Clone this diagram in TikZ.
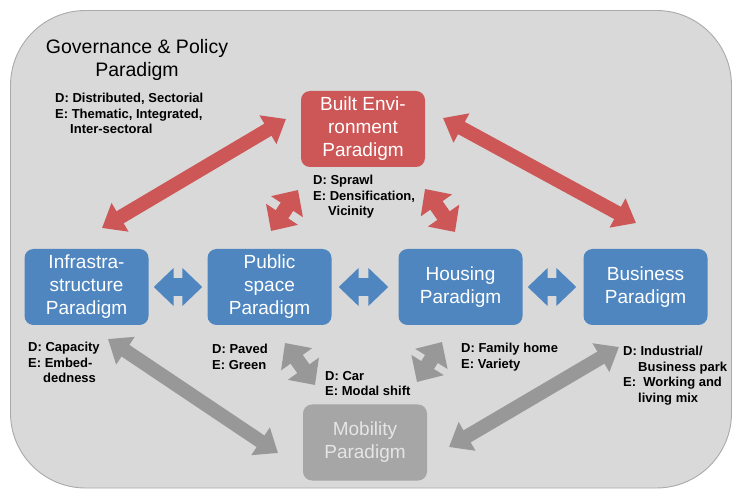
\documentclass[tikz,border=0pt]{standalone}
\usepackage{fontspec}
\setmainfont{Liberation Sans}
\usepackage{xcolor}
\usetikzlibrary{positioning,arrows.meta}
\definecolor{frame}{RGB}{217,217,217}
\definecolor{frameline}{RGB}{170,170,170}
\definecolor{envred}{RGB}{205,86,86}
\definecolor{parblue}{RGB}{79,134,192}
\definecolor{mobgray}{RGB}{166,166,166}
\definecolor{linkgray}{RGB}{152,152,152}
\newcommand{\labind}{\hspace*{15pt}}

\begin{document}
\begin{tikzpicture}[x=1pt, y=-1pt,
    paradigm/.style={rounded corners=9pt, minimum width=124pt, minimum height=76pt,
        inner sep=0pt, align=center, text=white, font=\fontsize{19}{23}\selectfont},
    dlabel/.style={anchor=north west, inner sep=0pt, align=left,
        font=\bfseries\fontsize{13}{15.5}\selectfont},
    redlink/.style={envred, line width=14pt, {Triangle[width=32pt,length=21pt]}-{Triangle[width=32pt,length=21pt]}},
    redstub/.style={envred, line width=15pt, {Triangle[width=37pt,length=20pt]}-{Triangle[width=37pt,length=20pt]}},
    graylink/.style={linkgray, line width=14pt, {Triangle[width=32pt,length=21pt]}-{Triangle[width=32pt,length=21pt]}},
    graystub/.style={linkgray, line width=15pt, {Triangle[width=37pt,length=20pt]}-{Triangle[width=37pt,length=20pt]}},
    bluelink/.style={parblue, line width=18pt, shorten <=5pt, shorten >=5pt,
        {Triangle[width=37pt,length=20pt]}-{Triangle[width=37pt,length=20pt]}}]
    \useasboundingbox (0,0) rectangle (732,489);

    % Governance frame
    \fill[frame, draw=frameline, line width=0.9pt, rounded corners=75pt] (10.5,10.5) rectangle (731.5,488);
    \node[anchor=north, inner sep=0pt, align=center, font=\fontsize{19.5}{23}\selectfont]
        (gov) at (137,39.5) {Governance \& Policy\\Paradigm};

    % Paradigm boxes
    \node[paradigm, fill=envred] (built) at (363,129) {Built Envi-\\ronment\\Paradigm};
    \node[paradigm, fill=parblue] (infra) at (86.5,287) {Infrastra-\\structure\\Paradigm};
    \node[paradigm, fill=parblue] (public) at (269.5,287) {Public\\space\\Paradigm};
    \node[paradigm, fill=parblue] (housing) at (460.5,287) {Housing\\Paradigm};
    \node[paradigm, fill=parblue] (business) at (645.5,287) {Business\\Paradigm};
    \node[paradigm, fill=mobgray, text=white!90!black] (mobility) at (365,442.5) {Mobility\\Paradigm};

    % D / E labels
    \node[dlabel] (govde) at (55,93) {D: Distributed, Sectorial\\E: Thematic, Integrated,\\\labind Inter-sectoral};
    \node[dlabel] (builtde) at (313,175) {D: Sprawl\\E: Densification,\\\labind Vicinity};
    \node[dlabel] (infrade) at (28,342) {D: Capacity\\E: Embed-\\\labind dedness};
    \node[dlabel] (publicde) at (212,344) {D: Paved\\E: Green};
    \node[dlabel] (mobilityde) at (325,371) {D: Car\\E: Modal shift};
    \node[dlabel] (housingde) at (461,343) {D: Family home\\E: Variety};
    \node[dlabel] (businessde) at (623,346) {D: Industrial/\\\labind Business park\\E:\ \ Working and\\\labind living mix};

    % Arrow ends
    \coordinate (bi1) at (102,228);  \coordinate (bi2) at (286,119);
    \coordinate (bb1) at (443,118);  \coordinate (bb2) at (636,223);
    \coordinate (bp1) at (271,231);  \coordinate (bp2) at (298,190);
    \coordinate (bh1) at (425,189);  \coordinate (bh2) at (455,232);
    \coordinate (mi1) at (108,339);  \coordinate (mi2) at (278,453);
    \coordinate (mp1) at (285,343);  \coordinate (mp2) at (315,385);
    \coordinate (mh1) at (442,342);  \coordinate (mh2) at (417,382);
    \coordinate (mb1) at (619,347);  \coordinate (mb2) at (449,447);

    % Built environment links
    \draw[redlink] (bi1) -- (bi2);
    \draw[redlink] (bb1) -- (bb2);
    \draw[redstub] (bp1) -- (bp2);
    \draw[redstub] (bh1) -- (bh2);

    % Neighbour links
    \draw[bluelink] (infra.east) -- (public.west);
    \draw[bluelink, shorten <=7pt, shorten >=10pt] (public.east) -- (housing.west);
    \draw[bluelink, shorten >=7pt] (housing.east) -- (business.west);

    % Mobility links
    \draw[graylink] (mi1) -- (mi2);
    \draw[graystub] (mp1) -- (mp2);
    \draw[graystub] (mh1) -- (mh2);
    \draw[graylink] (mb1) -- (mb2);
\end{tikzpicture}
\end{document}
